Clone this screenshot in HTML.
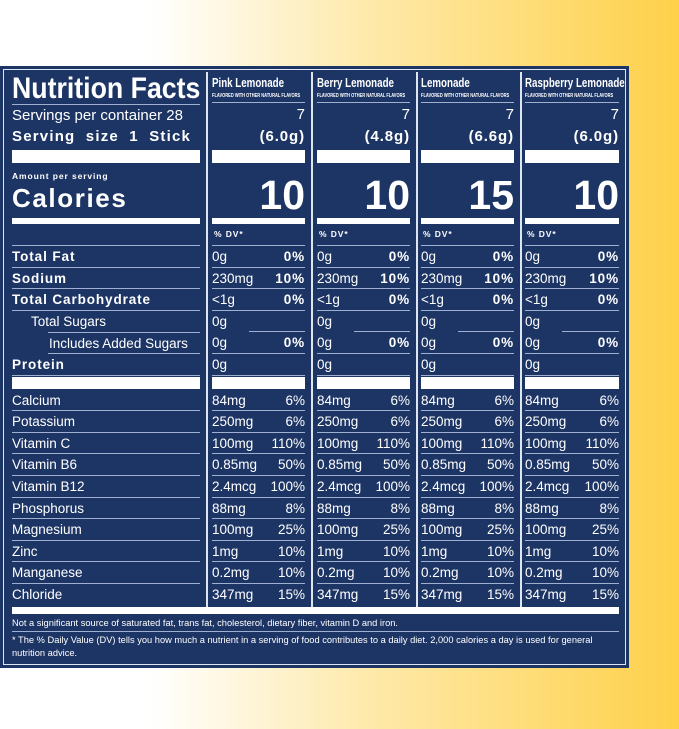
<!DOCTYPE html>
<html><head><meta charset="utf-8"><style>
*{margin:0;padding:0;box-sizing:border-box}
body{width:679px;height:729px;overflow:hidden;position:relative;font-family:"Liberation Sans",sans-serif;color:#fff;
background:linear-gradient(90deg,#fff 0%,#fff 22%,#fee9a8 55%,#fed04a 100%);}
.panel{position:absolute;left:0;top:66px;width:629px;height:602px;background:#1d3565;}
.inner{position:absolute;left:3px;top:3px;right:3px;bottom:3px;border:1.5px solid #dfe5f0;}
.a{position:absolute}
.sep{position:absolute;top:72px;height:536px;width:2px;background:#dfe5f0}
.rows{position:absolute;top:246px}
.r{height:21.6px;border-bottom:1px solid #9fb0d0;font-size:13.5px;line-height:21px;display:flex;justify-content:space-between;white-space:nowrap}
.b{font-weight:bold;letter-spacing:0.9px}
.wb{background:#fff}
.t{font-weight:bold;font-size:12.5px;transform:scaleX(.78);transform-origin:left;white-space:nowrap;display:inline-block}
.s{font-size:5px;white-space:nowrap;font-weight:bold;transform:scaleX(.8);transform-origin:left}
</style></head><body>
<div class="panel"><div class="inner"></div></div>
<div class="sep" style="left:206px"></div>
<div class="sep" style="left:311px"></div>
<div class="sep" style="left:416px"></div>
<div class="sep" style="left:520px"></div>

<div class="a" style="left:12px;top:72px;font-weight:bold;font-size:30px;line-height:33px;transform:scaleX(.89);transform-origin:left;white-space:nowrap">Nutrition Facts</div>
<div class="a" style="left:12px;top:104px;width:188px;height:1px;background:#9fb0d0"></div>
<div class="a" style="left:12px;top:107px;font-size:15px;line-height:18px">Servings per container 28</div>
<div class="a" style="left:12px;top:128px;font-size:15px;line-height:18px;font-weight:bold;letter-spacing:1.2px;word-spacing:5px">Serving size 1 Stick</div>
<div class="a wb" style="left:12px;top:150px;width:188px;height:13px"></div>
<div class="a b" style="left:12px;top:171px;font-size:8.5px">Amount per serving</div>
<div class="a b" style="left:12px;top:183px;font-size:26px;letter-spacing:1.6px">Calories</div>
<div class="a wb" style="left:12px;top:218px;width:188px;height:6px"></div>
<div class="a" style="left:12px;top:245px;width:188px;height:1px;background:#9fb0d0"></div>

<div class="rows" style="left:12px;width:188px">
<div class="r b">Total Fat</div>
<div class="r b">Sodium</div>
<div class="r b">Total Carbohydrate</div>
<div class="r" style="padding-left:19px;border-bottom:none">Total Sugars</div>
<div class="r" style="border-top:1px solid #9fb0d0;margin-left:36px;padding-left:1px">Includes Added Sugars</div>
<div class="r b">Protein</div>
<div class="wb" style="height:12px;margin-top:1px;margin-bottom:1px"></div>
<div class="r">Calcium</div><div class="r">Potassium</div><div class="r">Vitamin C</div><div class="r">Vitamin B6</div><div class="r">Vitamin B12</div><div class="r">Phosphorus</div><div class="r">Magnesium</div><div class="r">Zinc</div><div class="r">Manganese</div><div class="r" style="border-bottom:none">Chloride</div>
</div>

<div class="a" style="left:212px;top:74px"><span class="t">Pink Lemonade</span></div>
<div class="a s" style="left:212px;top:93px">FLAVORED WITH OTHER NATURAL FLAVORS</div>
<div class="a" style="left:317px;top:74px"><span class="t">Berry Lemonade</span></div>
<div class="a s" style="left:317px;top:93px">FLAVORED WITH OTHER NATURAL FLAVORS</div>
<div class="a" style="left:421px;top:74px"><span class="t">Lemonade</span></div>
<div class="a s" style="left:421px;top:93px">FLAVORED WITH OTHER NATURAL FLAVORS</div>
<div class="a" style="left:525px;top:74px"><span class="t">Raspberry Lemonade</span></div>
<div class="a s" style="left:525px;top:93px">FLAVORED WITH OTHER NATURAL FLAVORS</div>

<div class="a" style="left:212px;top:102px;width:93px;height:1px;background:#9fb0d0"></div>
<div class="a" style="left:317px;top:102px;width:93px;height:1px;background:#9fb0d0"></div>
<div class="a" style="left:421px;top:102px;width:93px;height:1px;background:#9fb0d0"></div>
<div class="a" style="left:525px;top:102px;width:94px;height:1px;background:#9fb0d0"></div>

<div class="a" style="left:212px;top:106px;width:93px;text-align:right;font-size:15px">7</div>
<div class="a" style="left:317px;top:106px;width:93px;text-align:right;font-size:15px">7</div>
<div class="a" style="left:421px;top:106px;width:93px;text-align:right;font-size:15px">7</div>
<div class="a" style="left:525px;top:106px;width:94px;text-align:right;font-size:15px">7</div>

<div class="a b" style="left:212px;top:128px;width:93px;text-align:right;font-size:15px">(6.0g)</div>
<div class="a b" style="left:317px;top:128px;width:93px;text-align:right;font-size:15px">(4.8g)</div>
<div class="a b" style="left:421px;top:128px;width:93px;text-align:right;font-size:15px">(6.6g)</div>
<div class="a b" style="left:525px;top:128px;width:94px;text-align:right;font-size:15px">(6.0g)</div>

<div class="a wb" style="left:212px;top:150px;width:93px;height:13px"></div>
<div class="a wb" style="left:317px;top:150px;width:93px;height:13px"></div>
<div class="a wb" style="left:421px;top:150px;width:93px;height:13px"></div>
<div class="a wb" style="left:525px;top:150px;width:94px;height:13px"></div>

<div class="a" style="left:212px;top:172px;width:93px;text-align:right;font-size:41px;font-weight:bold;line-height:46px">10</div>
<div class="a" style="left:317px;top:172px;width:93px;text-align:right;font-size:41px;font-weight:bold;line-height:46px">10</div>
<div class="a" style="left:421px;top:172px;width:93px;text-align:right;font-size:41px;font-weight:bold;line-height:46px">15</div>
<div class="a" style="left:525px;top:172px;width:94px;text-align:right;font-size:41px;font-weight:bold;line-height:46px">10</div>

<div class="a wb" style="left:212px;top:218px;width:93px;height:6px"></div>
<div class="a wb" style="left:317px;top:218px;width:93px;height:6px"></div>
<div class="a wb" style="left:421px;top:218px;width:93px;height:6px"></div>
<div class="a wb" style="left:525px;top:218px;width:94px;height:6px"></div>

<div class="a b" style="left:214px;top:229px;font-size:8.5px">% DV*</div>
<div class="a b" style="left:319px;top:229px;font-size:8.5px">% DV*</div>
<div class="a b" style="left:423px;top:229px;font-size:8.5px">% DV*</div>
<div class="a b" style="left:527px;top:229px;font-size:8.5px">% DV*</div>

<div class="a" style="left:212px;top:245px;width:93px;height:1px;background:#9fb0d0"></div>
<div class="a" style="left:317px;top:245px;width:93px;height:1px;background:#9fb0d0"></div>
<div class="a" style="left:421px;top:245px;width:93px;height:1px;background:#9fb0d0"></div>
<div class="a" style="left:525px;top:245px;width:94px;height:1px;background:#9fb0d0"></div>

<div class="rows" style="left:212px;width:93px">
<div class="r"><span>0g</span><span class="b">0%</span></div>
<div class="r"><span>230mg</span><span class="b">10%</span></div>
<div class="r"><span>&lt;1g</span><span class="b">0%</span></div>
<div class="r" style="border-bottom:none;position:relative"><span>0g</span><i style="position:absolute;left:37px;right:0;bottom:0;height:1px;background:#9fb0d0"></i></div>
<div class="r"><span>0g</span><span class="b">0%</span></div>
<div class="r"><span>0g</span></div>
<div class="wb" style="height:12px;margin-top:1px;margin-bottom:1px"></div>
<div class="r"><span>84mg</span><span>6%</span></div><div class="r"><span>250mg</span><span>6%</span></div><div class="r"><span>100mg</span><span>110%</span></div><div class="r"><span>0.85mg</span><span>50%</span></div><div class="r"><span>2.4mcg</span><span>100%</span></div><div class="r"><span>88mg</span><span>8%</span></div><div class="r"><span>100mg</span><span>25%</span></div><div class="r"><span>1mg</span><span>10%</span></div><div class="r"><span>0.2mg</span><span>10%</span></div><div class="r" style="border-bottom:none"><span>347mg</span><span>15%</span></div>
</div>
<div class="rows" style="left:317px;width:93px">
<div class="r"><span>0g</span><span class="b">0%</span></div>
<div class="r"><span>230mg</span><span class="b">10%</span></div>
<div class="r"><span>&lt;1g</span><span class="b">0%</span></div>
<div class="r" style="border-bottom:none;position:relative"><span>0g</span><i style="position:absolute;left:37px;right:0;bottom:0;height:1px;background:#9fb0d0"></i></div>
<div class="r"><span>0g</span><span class="b">0%</span></div>
<div class="r"><span>0g</span></div>
<div class="wb" style="height:12px;margin-top:1px;margin-bottom:1px"></div>
<div class="r"><span>84mg</span><span>6%</span></div><div class="r"><span>250mg</span><span>6%</span></div><div class="r"><span>100mg</span><span>110%</span></div><div class="r"><span>0.85mg</span><span>50%</span></div><div class="r"><span>2.4mcg</span><span>100%</span></div><div class="r"><span>88mg</span><span>8%</span></div><div class="r"><span>100mg</span><span>25%</span></div><div class="r"><span>1mg</span><span>10%</span></div><div class="r"><span>0.2mg</span><span>10%</span></div><div class="r" style="border-bottom:none"><span>347mg</span><span>15%</span></div>
</div>
<div class="rows" style="left:421px;width:93px">
<div class="r"><span>0g</span><span class="b">0%</span></div>
<div class="r"><span>230mg</span><span class="b">10%</span></div>
<div class="r"><span>&lt;1g</span><span class="b">0%</span></div>
<div class="r" style="border-bottom:none;position:relative"><span>0g</span><i style="position:absolute;left:37px;right:0;bottom:0;height:1px;background:#9fb0d0"></i></div>
<div class="r"><span>0g</span><span class="b">0%</span></div>
<div class="r"><span>0g</span></div>
<div class="wb" style="height:12px;margin-top:1px;margin-bottom:1px"></div>
<div class="r"><span>84mg</span><span>6%</span></div><div class="r"><span>250mg</span><span>6%</span></div><div class="r"><span>100mg</span><span>110%</span></div><div class="r"><span>0.85mg</span><span>50%</span></div><div class="r"><span>2.4mcg</span><span>100%</span></div><div class="r"><span>88mg</span><span>8%</span></div><div class="r"><span>100mg</span><span>25%</span></div><div class="r"><span>1mg</span><span>10%</span></div><div class="r"><span>0.2mg</span><span>10%</span></div><div class="r" style="border-bottom:none"><span>347mg</span><span>15%</span></div>
</div>
<div class="rows" style="left:525px;width:94px">
<div class="r"><span>0g</span><span class="b">0%</span></div>
<div class="r"><span>230mg</span><span class="b">10%</span></div>
<div class="r"><span>&lt;1g</span><span class="b">0%</span></div>
<div class="r" style="border-bottom:none;position:relative"><span>0g</span><i style="position:absolute;left:37px;right:0;bottom:0;height:1px;background:#9fb0d0"></i></div>
<div class="r"><span>0g</span><span class="b">0%</span></div>
<div class="r"><span>0g</span></div>
<div class="wb" style="height:12px;margin-top:1px;margin-bottom:1px"></div>
<div class="r"><span>84mg</span><span>6%</span></div><div class="r"><span>250mg</span><span>6%</span></div><div class="r"><span>100mg</span><span>110%</span></div><div class="r"><span>0.85mg</span><span>50%</span></div><div class="r"><span>2.4mcg</span><span>100%</span></div><div class="r"><span>88mg</span><span>8%</span></div><div class="r"><span>100mg</span><span>25%</span></div><div class="r"><span>1mg</span><span>10%</span></div><div class="r"><span>0.2mg</span><span>10%</span></div><div class="r" style="border-bottom:none"><span>347mg</span><span>15%</span></div>
</div>

<div class="a wb" style="left:12px;top:607px;width:607px;height:7px"></div>
<div class="a" style="left:12px;top:617px;font-size:9.3px;line-height:12px;white-space:nowrap">Not a significant source of saturated fat, trans fat, cholesterol, dietary fiber, vitamin D and iron.</div>
<div class="a" style="left:12px;top:631px;width:607px;height:1px;background:#9fb0d0"></div>
<div class="a" style="left:12px;top:634px;width:610px;font-size:9.3px;line-height:13px">* The % Daily Value (DV) tells you how much a nutrient in a serving of food contributes to a daily diet. 2,000 calories a day is used for general nutrition advice.</div>
</body></html>
